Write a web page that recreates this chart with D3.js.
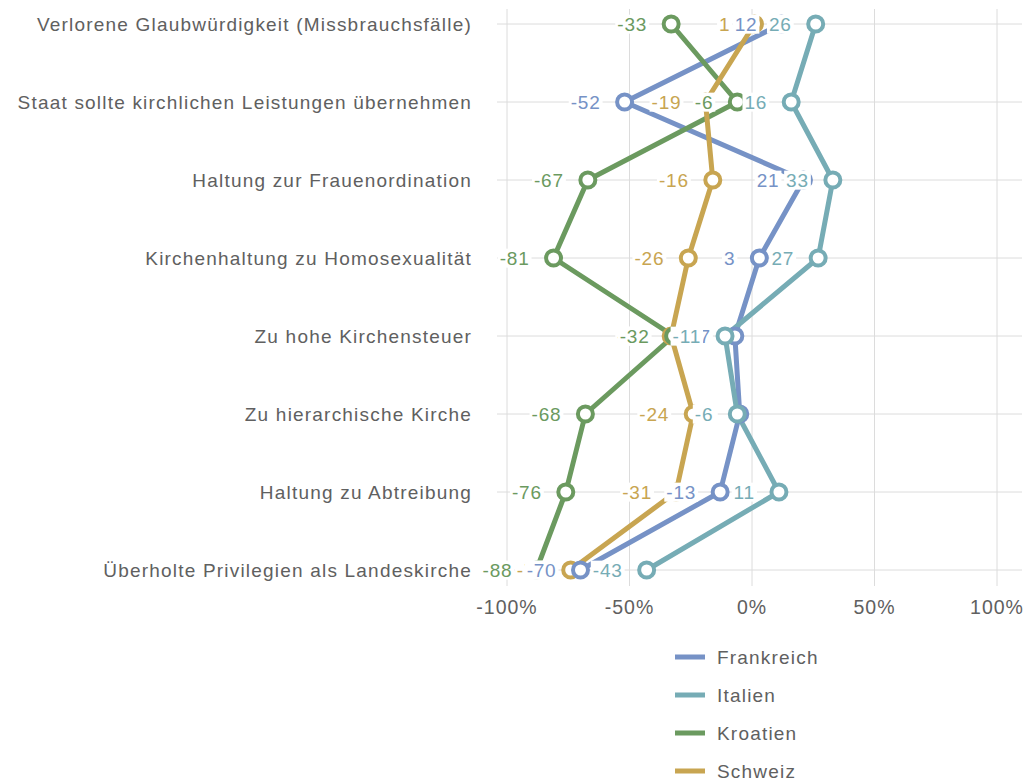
<!DOCTYPE html>
<html>
<head>
<meta charset="utf-8">
<script src="https://cdn.jsdelivr.net/npm/d3@7"></script>
<style>
  body { margin: 0; background: #fff; }
  svg { display: block; font-family: "Liberation Sans", Arial, sans-serif; }
</style>
</head>
<body>
<div class="chart"></div>
<script>
const categories = [
  'Verlorene Glaubwürdigkeit (Missbrauchsfälle)',
  'Staat sollte kirchlichen Leistungen übernehmen',
  'Haltung zur Frauenordination',
  'Kirchenhaltung zu Homosexualität',
  'Zu hohe Kirchensteuer',
  'Zu hierarchische Kirche',
  'Haltung zu Abtreibung',
  'Überholte Privilegien als Landeskirche',
]
const countries = ['Frankreich', 'Italien', 'Kroatien', 'Schweiz']
const frankreich = [12, -52, 21, 3, -7, -5, -13, -70]
const italien = [26, 16, 33, 27, -11, -6, 11, -43]
const kroatien = [-33, -6, -67, -81, -32, -68, -76, -88]
const schweiz = [1, -19, -16, -26, -33, -24, -31, -74]
const xTicks = [-100, -50, 0, 50, 100]

const colors = {
  Frankreich: '#7692c6',
  Italien: '#76acb5',
  Kroatien: '#6b9a5f',
  Schweiz: '#c8a551',
}

const series = [
  { name: 'Frankreich', values: frankreich },
  { name: 'Italien', values: italien },
  { name: 'Kroatien', values: kroatien },
  { name: 'Schweiz', values: schweiz },
]

const width = 1027
const height = 782

const svg = d3
  .select('.chart')
  .append('svg')
  .attr('width', width)
  .attr('height', height)

const x = d3.scaleLinear().domain([-100, 100]).range([507, 997])
const y = d3.scalePoint().domain(categories).range([24, 570])

// grid
svg
  .append('g')
  .selectAll('line')
  .data(xTicks)
  .join('line')
  .attr('x1', d => x(d))
  .attr('x2', d => x(d))
  .attr('y1', 9)
  .attr('y2', 586)
  .attr('stroke', '#dcdcdc')
  .attr('stroke-width', 1)

svg
  .append('g')
  .selectAll('line')
  .data(categories)
  .join('line')
  .attr('x1', 497)
  .attr('x2', 1022)
  .attr('y1', d => y(d))
  .attr('y2', d => y(d))
  .attr('stroke', '#dcdcdc')
  .attr('stroke-width', 1)

// axes labels
svg
  .append('g')
  .selectAll('text')
  .data(categories)
  .join('text')
  .attr('x', 472)
  .attr('y', d => y(d))
  .attr('dy', '0.35em')
  .attr('text-anchor', 'end')
  .attr('fill', '#606060')
  .attr('font-size', 19)
  .attr('letter-spacing', 1.2)
  .text(d => d)

svg
  .append('g')
  .selectAll('text')
  .data(xTicks)
  .join('text')
  .attr('x', d => x(d))
  .attr('y', 607)
  .attr('dy', '0.35em')
  .attr('text-anchor', 'middle')
  .attr('fill', '#606060')
  .attr('font-size', 19.5)
  .attr('letter-spacing', 1)
  .text(d => d + '%')

// lines
const line = d3
  .line()
  .x(d => x(d.v))
  .y(d => y(d.c))

const pts = s => s.values.map((v, i) => ({ v, c: categories[i], name: s.name }))

svg
  .append('g')
  .selectAll('path')
  .data(series)
  .join('path')
  .attr('d', s => line(pts(s)))
  .attr('fill', 'none')
  .attr('stroke', s => colors[s.name])
  .attr('stroke-width', 5)
  .attr('stroke-linejoin', 'round')

// circles, drawn back to front
const order = ['Schweiz', 'Frankreich', 'Italien', 'Kroatien']
const ordered = order.map(n => series.find(s => s.name === n))

const dots = svg.append('g')
ordered.forEach(s => {
  dots
    .append('g')
    .selectAll('circle')
    .data(pts(s))
    .join('circle')
    .attr('cx', d => x(d.v))
    .attr('cy', d => y(d.c))
    .attr('r', 7.5)
    .attr('fill', '#fff')
    .attr('stroke', colors[s.name])
    .attr('stroke-width', 4)
})

// value labels with white background
const labels = svg.append('g').attr('font-size', 19).attr('letter-spacing', 0.8)
ordered.forEach(s => {
  pts(s).forEach(d => {
    const g = labels.append('g')
    const t = g
      .append('text')
      .attr('x', x(d.v) - 24)
      .attr('y', y(d.c))
      .attr('dy', '0.35em')
      .attr('text-anchor', 'end')
      .attr('fill', colors[s.name])
      .text(d.v)
    const bb = t.node().getBBox()
    g.insert('rect', 'text')
      .attr('x', bb.x - 2)
      .attr('y', bb.y + 1)
      .attr('width', bb.width + 4)
      .attr('height', bb.height - 2)
      .attr('fill', '#fff')
  })
})

// legend
const legend = svg
  .append('g')
  .selectAll('g')
  .data(countries)
  .join('g')
  .attr('transform', (d, i) => `translate(675,${657 + i * 38})`)

legend
  .append('rect')
  .attr('x', 0)
  .attr('y', -2.5)
  .attr('width', 30)
  .attr('height', 5)
  .attr('fill', d => colors[d])

legend
  .append('text')
  .attr('x', 42)
  .attr('dy', '0.35em')
  .attr('fill', '#606060')
  .attr('font-size', 19)
  .attr('letter-spacing', 1.2)
  .text(d => d)
</script>
</body>
</html>
